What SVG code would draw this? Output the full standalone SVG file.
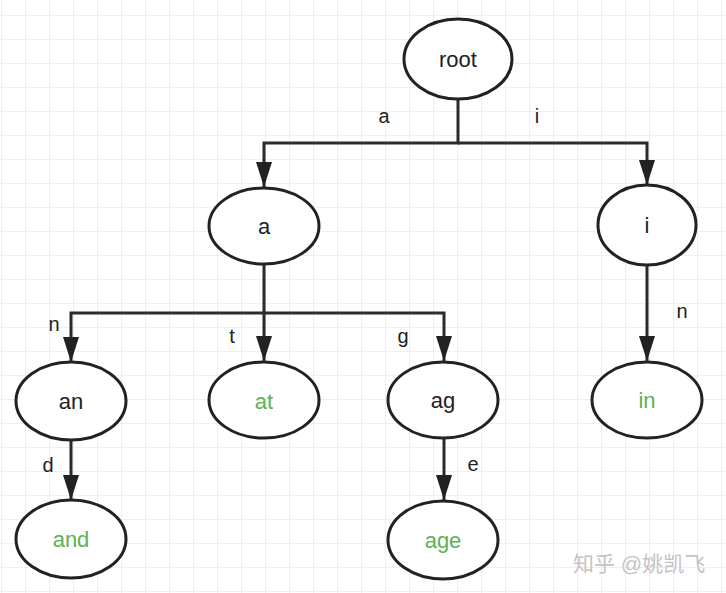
<svg xmlns="http://www.w3.org/2000/svg" width="726" height="593" viewBox="0 0 726 593">
  <defs>
    <pattern id="grid" x="1" y="15" width="24" height="24" patternUnits="userSpaceOnUse">
      <path d="M0,0 H24 M0,0 V24" fill="none" stroke="#e2e2e2" stroke-width="1.2"/>
    </pattern>
    <marker id="arrow" markerUnits="userSpaceOnUse" markerWidth="26" markerHeight="18" viewBox="0 0 26 18" refX="25" refY="9" orient="auto">
      <path d="M0,1 L25,9 L0,17 Z" fill="#222"/>
    </marker>
    <style>
      .node ellipse { fill: #fff; stroke: #222; stroke-width: 3; }
      .node text { font-family: "Liberation Sans", Arial, sans-serif; font-size: 22px; text-anchor: middle; fill: #222; }
      .node text.word { fill: #5db157; }
      .edges path { fill: none; stroke: #2b2b2b; stroke-width: 3; }
      .edges .head { marker-end: url(#arrow); }
      .label { font-family: "Liberation Sans", Arial, sans-serif; font-size: 20px; text-anchor: middle; fill: #222; }
      .wm { font-family: "Liberation Sans", "Noto Sans CJK SC", sans-serif; font-size: 21px; fill: #c4c4c4; }
    </style>
  </defs>
  <rect width="726" height="593" fill="#fff"/>
  <rect width="726" height="593" fill="url(#grid)"/>

  <g id="connectors" class="edges">
    <path class="head" d="M458,99 V143 H264 V187"/>
    <path class="head" d="M458,143 H647 V185"/>
    <path class="head" d="M264,264 V313 H71 V362"/>
    <path class="head" d="M264,313 V361"/>
    <path class="head" d="M264,313 H444 V361"/>
    <path class="head" d="M647,265 V361"/>
    <path class="head" d="M71,440 V500"/>
    <path class="head" d="M444,438 V500"/>
  </g>

  <g id="edge-labels">
    <text class="label" x="384" y="123">a</text>
    <text class="label" x="537" y="123">i</text>
    <text class="label" x="54" y="331">n</text>
    <text class="label" x="232" y="343">t</text>
    <text class="label" x="403" y="343">g</text>
    <text class="label" x="682" y="318">n</text>
    <text class="label" x="48" y="472">d</text>
    <text class="label" x="473" y="471">e</text>
  </g>

  <g id="node-root" class="node">
    <ellipse cx="458" cy="59" rx="54" ry="40"/>
    <text x="458" y="67">root</text>
  </g>
  <g id="node-a" class="node">
    <ellipse cx="264" cy="226" rx="55" ry="38"/>
    <text x="264" y="234">a</text>
  </g>
  <g id="node-i" class="node">
    <ellipse cx="647" cy="225" rx="49" ry="40"/>
    <text x="647" y="233">i</text>
  </g>
  <g id="node-an" class="node">
    <ellipse cx="71" cy="401" rx="55" ry="39"/>
    <text x="71" y="409">an</text>
  </g>
  <g id="node-at" class="node">
    <ellipse cx="264" cy="400" rx="55" ry="38"/>
    <text class="word" x="264" y="409">at</text>
  </g>
  <g id="node-ag" class="node">
    <ellipse cx="443" cy="400" rx="55" ry="38"/>
    <text x="443" y="408">ag</text>
  </g>
  <g id="node-in" class="node">
    <ellipse cx="647" cy="400" rx="55" ry="38"/>
    <text class="word" x="647" y="408">in</text>
  </g>
  <g id="node-and" class="node">
    <ellipse cx="71" cy="539" rx="55" ry="39"/>
    <text class="word" x="71" y="547">and</text>
  </g>
  <g id="node-age" class="node">
    <ellipse cx="443" cy="540" rx="55" ry="39"/>
    <text class="word" x="443" y="548">age</text>
  </g>

  <text class="wm" x="573" y="571">知乎 @姚凯飞</text>
</svg>
